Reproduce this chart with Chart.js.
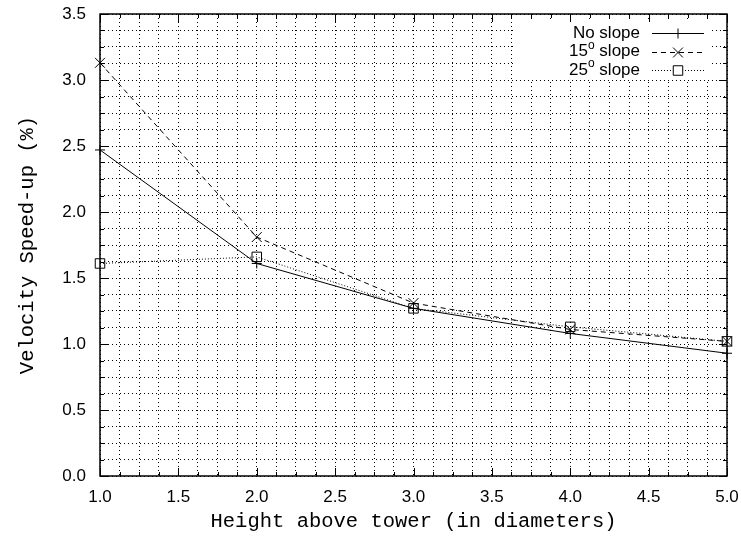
<!DOCTYPE html>
<html>
<head>
<meta charset="utf-8">
<script src="https://cdn.jsdelivr.net/npm/chart.js@4/dist/chart.umd.min.js"></script>
<style>
html, body { margin: 0; padding: 0; background: #fff; }
#plot { position: relative; width: 741px; height: 540px; }
</style>
</head>
<body>
<div id="plot"><canvas id="myChart"></canvas></div>
<script>
// data
const heights = [1, 2, 3, 4, 5];
const noSlope = [2.47, 1.61, 1.27, 1.08, 0.93];
const slope15 = [3.13, 1.81, 1.31, 1.11, 1.02];
const slope25 = [1.61, 1.66, 1.27, 1.13, 1.02];
const seriesLabels = ["No slope", "15° slope", "25° slope"];
const xTitle = "Height above tower (in diameters)";
const yTitle = "Velocity Speed-up (%)";

const sansFont = "'Liberation Sans', Arial, Helvetica, sans-serif";
const monoFont = "'Liberation Mono', 'Courier New', monospace";

Chart.defaults.font.family = sansFont;
Chart.defaults.font.size = 17;
Chart.defaults.color = '#000';

const toPoints = (ys) => heights.map((x, i) => ({x: x, y: ys[i]}));
const isMajor = (v) => Math.abs(v * 2 - Math.round(v * 2)) < 1e-6;

// frame with inward tick marks, gnuplot style
const framePlugin = {
    id: 'frame',
    beforeDatasetsDraw(chart) {
        const {ctx, chartArea: a, scales} = chart;
        ctx.save();
        // white box behind the key
        ctx.fillStyle = '#fff';
        ctx.fillRect(513, 21, 199, 58);
        ctx.strokeStyle = '#000';
        ctx.lineWidth = 1;
        ctx.beginPath();
        scales.x.ticks.forEach(t => {
            const px = Math.round(scales.x.getPixelForValue(t.value)) + 0.5;
            const len = isMajor(t.value) ? 8 : 4;
            ctx.moveTo(px, a.bottom); ctx.lineTo(px, a.bottom - len);
            ctx.moveTo(px, a.top); ctx.lineTo(px, a.top + len);
        });
        scales.y.ticks.forEach(t => {
            const py = Math.round(scales.y.getPixelForValue(t.value)) + 0.5;
            const len = isMajor(t.value) ? 8 : 4;
            ctx.moveTo(a.left, py); ctx.lineTo(a.left + len, py);
            ctx.moveTo(a.right, py); ctx.lineTo(a.right - len, py);
        });
        ctx.stroke();
        ctx.lineWidth = 1.5;
        ctx.strokeRect(a.left, a.top, a.right - a.left, a.bottom - a.top);
        ctx.restore();
    }
};

// legend: text on the left, sample line with marker on the right
const keyPlugin = {
    id: 'key',
    afterDraw(chart) {
        const ctx = chart.ctx;
        const textRight = 640, lineL = 652, lineR = 704, top = 33, step = 18.5;
        ctx.save();
        chart.data.datasets.forEach((ds, i) => {
            const y = top + i * step;
            const parts = ds.label.split('°');
            ctx.fillStyle = '#000';
            ctx.textBaseline = 'middle';
            ctx.textAlign = 'left';
            ctx.font = '17px ' + sansFont;
            let w = ctx.measureText(parts[0]).width;
            let wSup = 0, wRest = 0;
            if (parts.length > 1) {
                ctx.font = '12px ' + sansFont;
                wSup = ctx.measureText('o').width;
                ctx.font = '17px ' + sansFont;
                wRest = ctx.measureText(parts[1]).width;
            }
            let x = textRight - w - wSup - wRest;
            ctx.fillText(parts[0], x, y);
            if (parts.length > 1) {
                ctx.font = '12px ' + sansFont;
                ctx.fillText('o', x + w, y - 6);
                ctx.font = '17px ' + sansFont;
                ctx.fillText(parts[1], x + w + wSup, y);
            }
            ctx.strokeStyle = ds.borderColor;
            ctx.lineWidth = ds.borderWidth;
            ctx.setLineDash(ds.borderDash || []);
            ctx.beginPath();
            ctx.moveTo(lineL, Math.round(y) + 0.5);
            ctx.lineTo(lineR, Math.round(y) + 0.5);
            ctx.stroke();
            ctx.setLineDash([]);
            ctx.fillStyle = '#fff';
            ctx.strokeStyle = '#000';
            Chart.helpers.drawPoint(ctx, {
                pointStyle: ds.pointStyle,
                radius: ds.pointRadius,
                borderWidth: ds.pointBorderWidth,
                rotation: 0
            }, (lineL + lineR) / 2, Math.round(y) + 0.5);
        });
        ctx.restore();
    }
};

const ctx1 = document.getElementById('myChart');

const data1 = {
    datasets: [{
        label: seriesLabels[0],
        data: toPoints(noSlope),
        borderColor: '#000',
        borderWidth: 1,
        pointStyle: 'cross',
        pointRadius: 5,
        pointBorderWidth: 1,
        pointBorderColor: '#000',
        pointBackgroundColor: 'rgba(0,0,0,0)'
    }, {
        label: seriesLabels[1],
        data: toPoints(slope15),
        borderColor: '#000',
        borderWidth: 1,
        borderDash: [5, 4],
        pointStyle: 'crossRot',
        pointRadius: 7,
        pointBorderWidth: 1,
        pointBorderColor: '#000',
        pointBackgroundColor: 'rgba(0,0,0,0)'
    }, {
        label: seriesLabels[2],
        data: toPoints(slope25),
        borderColor: '#000',
        borderWidth: 1,
        borderDash: [1, 2],
        pointStyle: 'rect',
        pointRadius: 6.7,
        pointBorderWidth: 1,
        pointBorderColor: '#000',
        pointBackgroundColor: 'rgba(0,0,0,0)'
    }]
};

const options = {
    responsive: true,
    maintainAspectRatio: false,
    animation: false,
    devicePixelRatio: 1,
    layout: { padding: { left: 0, right: 14, top: 14, bottom: 0 } },
    elements: { line: { tension: 0, fill: false } },
    datasets: { line: { clip: false } },
    plugins: {
        legend: { display: false },
        tooltip: { enabled: false }
    },
    scales: {
        x: {
            type: 'linear',
            min: 1,
            max: 5,
            afterFit: (s) => { s.height = 64; s.paddingLeft = 0; s.paddingRight = 0; },
            ticks: {
                stepSize: 0.125,
                autoSkip: false,
                maxRotation: 0,
                padding: 11,
                color: '#000',
                callback: (v) => isMajor(v) ? v.toFixed(1) : ''
            },
            grid: { color: '#000', lineWidth: 1, drawTicks: false },
            border: { display: false, dash: [1, 3] },
            title: {
                display: true,
                text: xTitle,
                color: '#000',
                font: { family: monoFont, size: 20.5 },
                padding: { top: 0, bottom: 6 }
            }
        },
        y: {
            type: 'linear',
            min: 0,
            max: 3.5,
            afterFit: (s) => { s.width = 100; s.paddingTop = 0; s.paddingBottom = 0; },
            ticks: {
                stepSize: 0.125,
                autoSkip: false,
                padding: 14,
                color: '#000',
                callback: (v) => isMajor(v) ? v.toFixed(1) : ''
            },
            grid: { color: '#000', lineWidth: 1, drawTicks: false },
            border: { display: false, dash: [1, 3] },
            title: {
                display: true,
                text: yTitle,
                color: '#000',
                font: { family: monoFont, size: 20.5 },
                padding: { top: 15, bottom: 0 }
            }
        }
    }
};

const myChart = new Chart(ctx1, {
    type: 'line',
    data: data1,
    options: options,
    plugins: [framePlugin, keyPlugin]
});
</script>
</body>
</html>
